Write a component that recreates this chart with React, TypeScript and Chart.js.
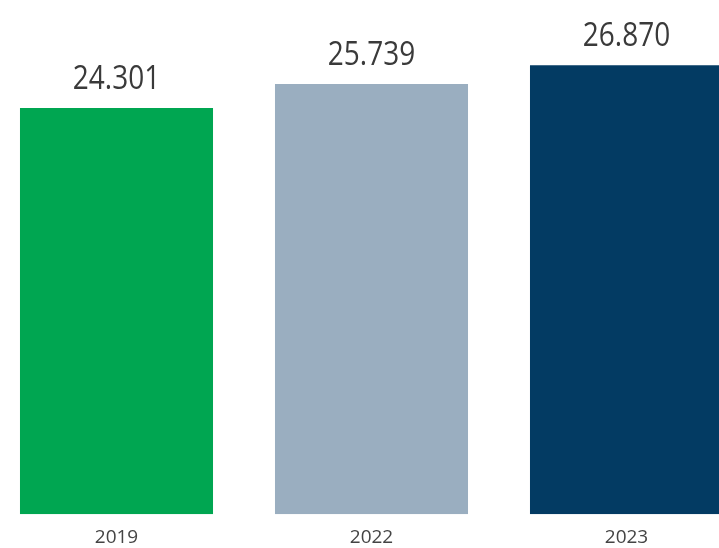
import React, { useEffect, useRef } from "react";
import { Chart, registerables } from "chart.js";

Chart.register(...registerables);

const categories = ["2019", "2022", "2023"];
const values = [24301, 25739, 26870];
const valueLabels = ["24.301", "25.739", "26.870"];
const barColors = ["#00a651", "#9aaec0", "#033b63"];

const valueLabelPlugin = {
  id: "valueLabels",
  afterDatasetsDraw(chart: any) {
    const ctx = chart.ctx;
    const meta = chart.getDatasetMeta(0);
    meta.data.forEach((bar: any, i: number) => {
      ctx.save();
      ctx.font = '400 28px "Open Sans"';
      ctx.fillStyle = "#3a3a3a";
      ctx.textAlign = "center";
      ctx.textBaseline = "alphabetic";
      ctx.translate(bar.x, bar.y - 19);
      ctx.scale(1, 1.15);
      ctx.fillText(valueLabels[i], 0, 0);
      ctx.restore();
    });
  },
};

export default function App() {
  const ref = useRef<HTMLCanvasElement | null>(null);
  useEffect(() => {
    if (!ref.current) return;
    const chart = new Chart(ref.current, {
      type: "bar",
      data: {
        labels: categories,
        datasets: [
          {
            data: values,
            backgroundColor: barColors,
            borderWidth: 0,
            categoryPercentage: 1,
            barPercentage: 0.757,
          },
        ],
      },
      options: {
        animation: false,
        responsive: false,
        maintainAspectRatio: false,
        layout: { padding: { top: 0, bottom: -13, left: 0, right: 0 } },
        plugins: { legend: { display: false }, tooltip: { enabled: false } },
        scales: {
          x: {
            grid: { display: false, drawTicks: false },
            border: { display: false },
            ticks: {
              padding: 12,
              color: "#444444",
              font: { family: '"Open Sans"', size: 19 },
            },
          },
          y: {
            display: false,
            min: 0,
            max: 30770,
          },
        },
      },
      plugins: [valueLabelPlugin],
    });
    return () => chart.destroy();
  }, []);
  return (
    <div
      style={{
        position: "fixed",
        left: -11.5,
        top: 0,
        width: 765,
        height: 548,
        background: "#ffffff",
      }}
    >
      <canvas ref={ref} width={765} height={548} style={{ width: 765, height: 548 }} />
    </div>
  );
}
